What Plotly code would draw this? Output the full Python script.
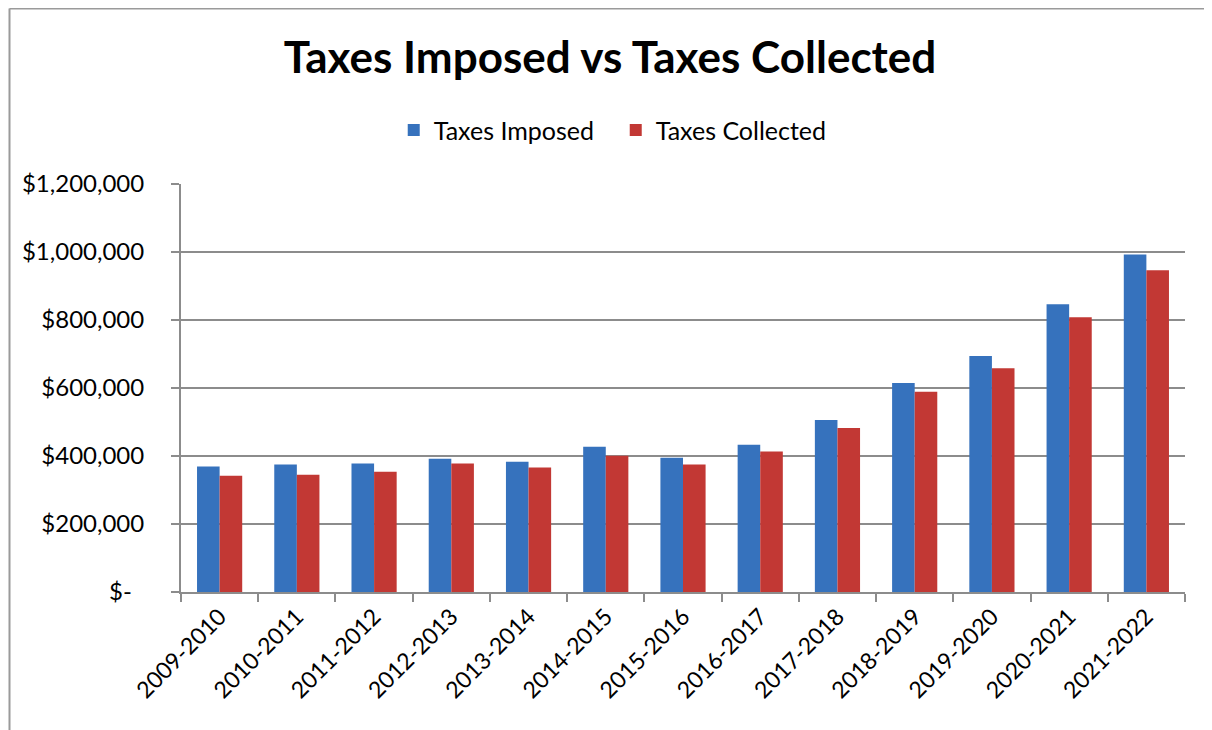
import plotly.graph_objects as go

years = ["2009-2010", "2010-2011", "2011-2012", "2012-2013", "2013-2014",
         "2014-2015", "2015-2016", "2016-2017", "2017-2018", "2018-2019",
         "2019-2020", "2020-2021", "2021-2022"]
taxes_imposed = [369000, 375000, 378000, 392000, 383000, 427000, 395000,
                 433000, 506000, 615000, 694000, 846000, 993000]
taxes_collected = [342000, 345000, 354000, 378000, 366000, 401000, 375000,
                   413000, 482000, 589000, 658000, 808000, 946000]
y_tickvals = [0, 200000, 400000, 600000, 800000, 1000000, 1200000]
y_ticktext = ["$-\u00a0\u00a0", "$200,000", "$400,000", "$600,000", "$800,000",
              "$1,000,000", "$1,200,000"]

FONT = "Lato"
GRID = "#8c8c8c"

# page has an 8px body margin; figure sized to fit the window
W, H = 1204, 722
L, T, PW, PH = 173, 176, 1004, 408

fig = go.Figure()
fig.add_trace(go.Bar(x=years, y=taxes_imposed, name="Taxes Imposed",
                     marker=dict(color="#3672bd", line=dict(width=0))))
fig.add_trace(go.Bar(x=years, y=taxes_collected, name="Taxes Collected",
                     marker=dict(color="#c23834", line=dict(width=0))))

fig.update_layout(
    width=W, height=H,
    margin=dict(l=L, r=W - L - PW, t=T, b=H - T - PH),
    paper_bgcolor="white", plot_bgcolor="white",
    barmode="group", bargap=0.415, bargroupgap=0,
    font=dict(family=FONT, color="black"),
    title=dict(text="<b>Taxes Imposed vs Taxes Collected</b>",
               x=602 / W, xanchor="center", y=1 - 50 / H, yanchor="middle",
               font=dict(family=FONT, size=44, color="black")),
    legend=dict(orientation="h", x=0.433, xanchor="center", y=1.132, yanchor="middle",
                font=dict(family=FONT, size=25, color="black"),
                entrywidth=177, bgcolor="rgba(0,0,0,0)"),
    xaxis=dict(type="category", showgrid=False, showline=True, linecolor=GRID,
               linewidth=2, ticks="outside", tickson="boundaries", ticklen=8,
               tickcolor=GRID, tickwidth=2, tickangle=-45,
               tickfont=dict(family=FONT, size=23, color="black")),
    yaxis=dict(range=[0, 1200000], tickvals=y_tickvals, ticktext=y_ticktext,
               showgrid=True, gridcolor=GRID, gridwidth=2, zeroline=False,
               showline=True, linecolor=GRID, linewidth=2, ticks="outside",
               ticklen=8, tickcolor=GRID, tickwidth=2, ticklabelstandoff=22,
               tickfont=dict(family=FONT, size=24, color="black")),
    shapes=[
        dict(type="line", xref="paper", yref="paper",
             x0=(1.5 - L) / PW, x1=(1.5 - L) / PW,
             y0=-(H - T - PH) / PH, y1=1 + (T - 0.5) / PH,
             line=dict(color="#9a9a9a", width=2)),
        dict(type="line", xref="paper", yref="paper",
             x0=(1.5 - L) / PW, x1=(W - L) / PW,
             y0=1 + (T - 0.5) / PH, y1=1 + (T - 0.5) / PH,
             line=dict(color="#9a9a9a", width=2)),
    ],
)

fig.write_html("out.html")
